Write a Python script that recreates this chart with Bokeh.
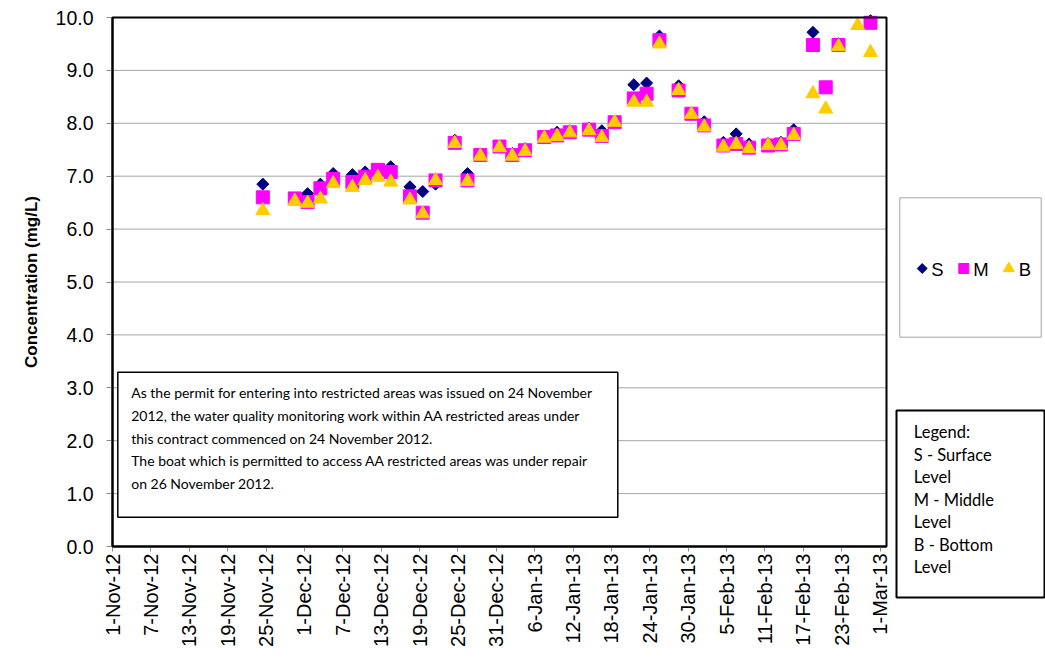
import math
import pandas as pd
from bokeh.plotting import figure
from bokeh.models import (Range1d, FixedTicker, PrintfTickFormatter, BoxAnnotation,
                          Label, ColumnDataSource, LinearAxis)
from bokeh.core.properties import value
from bokeh.embed import file_html
from bokeh.resources import INLINE

NaN = float("nan")

# ---------------- data ----------------
start_date = "2012-11-01"
end_days = 121  # axis runs to 2-Mar-13

dates = [
    "2012-11-24", "2012-11-29", "2012-12-01", "2012-12-03", "2012-12-05",
    "2012-12-08", "2012-12-10", "2012-12-12", "2012-12-14", "2012-12-17",
    "2012-12-19", "2012-12-21", "2012-12-24", "2012-12-26", "2012-12-28",
    "2012-12-31", "2013-01-02", "2013-01-04", "2013-01-07", "2013-01-09",
    "2013-01-11", "2013-01-14", "2013-01-16", "2013-01-18", "2013-01-21",
    "2013-01-23", "2013-01-25", "2013-01-28", "2013-01-30", "2013-02-01",
    "2013-02-04", "2013-02-06", "2013-02-08", "2013-02-11", "2013-02-13",
    "2013-02-15", "2013-02-18", "2013-02-20", "2013-02-22", "2013-02-25",
    "2013-02-27",
]
surface = [
    6.85, 6.57, 6.67, 6.85, 7.05, 7.03, 7.08, 7.10, 7.18, 6.80,
    6.71, 6.85, 7.68, 7.05, 7.42, 7.57, 7.43, 7.52, 7.76, 7.83,
    7.86, 7.91, 7.86, 8.03, 8.73, 8.76, 9.65, 8.71, 8.20, 8.03,
    7.64, 7.80, 7.61, 7.62, 7.64, 7.88, 9.72, 8.68, 9.50, NaN,
    9.94,
]
middle = [
    6.60, 6.58, 6.51, 6.77, 6.95, 6.89, 6.99, 7.12, 7.08, 6.62,
    6.31, 6.92, 7.63, 6.92, 7.40, 7.56, 7.40, 7.49, 7.74, 7.77,
    7.83, 7.88, 7.76, 8.02, 8.47, 8.56, 9.57, 8.62, 8.18, 7.96,
    7.58, 7.61, 7.54, 7.58, 7.60, 7.80, 9.48, 8.68, 9.48, NaN,
    9.90,
]
bottom = [
    6.35, 6.53, 6.49, 6.57, 6.86, 6.79, 6.92, 6.98, 6.89, 6.55,
    6.29, 6.92, 7.62, 6.90, 7.38, 7.54, 7.38, 7.47, 7.72, 7.75,
    7.82, 7.86, 7.73, 8.02, 8.40, 8.40, 9.50, 8.62, 8.17, 7.93,
    7.55, 7.60, 7.52, 7.58, 7.58, 7.77, 8.56, 8.27, 9.45, 9.85,
    9.34,
]
series_names = ["S", "M", "B"]
series_colors = ["#000080", "#FF00FF", "#FFCC00"]
tick_labels = [
    "1-Nov-12", "7-Nov-12", "13-Nov-12", "19-Nov-12", "25-Nov-12",
    "1-Dec-12", "7-Dec-12", "13-Dec-12", "19-Dec-12", "25-Dec-12",
    "31-Dec-12", "6-Jan-13", "12-Jan-13", "18-Jan-13", "24-Jan-13",
    "30-Jan-13", "5-Feb-13", "11-Feb-13", "17-Feb-13", "23-Feb-13",
    "1-Mar-13",
]
y_ticks = [0, 1, 2, 3, 4, 5, 6, 7, 8, 9, 10]
y_label = "Concentration (mg/L)"
note_lines = [
    "As the permit for entering into restricted areas was issued on 24 November",
    "2012,  the water quality monitoring work within AA restricted areas  under",
    "this contract commenced on 24 November 2012.",
    "The boat which is permitted to access AA restricted areas was  under repair",
    "on 26 November 2012.",
]
legend_lines = ["Legend:", "S - Surface", "Level", "M - Middle", "Level",
                "B - Bottom", "Level"]

# ---------------- derived positions ----------------
t0 = pd.Timestamp(start_date)
xs = ((pd.to_datetime(dates) - t0).days + 0.5).to_numpy().astype(float)
tick_pos = [int(d) for d in (pd.to_datetime(tick_labels, format="%d-%b-%y") - t0).days]

src = ColumnDataSource(dict(x=xs, s=surface, m=middle, b=bottom))

# ---------------- layout constants (canvas pixels) ----------------
W, H = 1045, 666
FL, FT, FR, FB = 112, 17, 886, 546          # chart area edges
YMAX = 10.0
x_start = -FL * end_days / (FR - FL)
x_end = end_days + (W - FR) * end_days / (FR - FL)
y_start = -(H - FB) * YMAX / (FB - FT)
y_end = YMAX + FT * YMAX / (FB - FT)


def cx(px):
    return x_start + px / W * (x_end - x_start)


def cy(py):
    return y_end - py / H * (y_end - y_start)


p = figure(width=W, height=H, output_backend="svg", toolbar_location=None,
           x_range=Range1d(x_start, x_end), y_range=Range1d(y_start, y_end),
           x_axis_type=None, y_axis_type=None, min_border=0)
p.background_fill_color = "white"
p.border_fill_color = "white"
p.outline_line_color = None

# horizontal gridlines across the chart area
grid_levels = [t for t in y_ticks if 0 < t < YMAX]
p.segment(x0=[0] * len(grid_levels), x1=[end_days] * len(grid_levels),
          y0=grid_levels, y1=grid_levels, line_color="#a6a6a6", line_width=1)

xa = LinearAxis(fixed_location=0, bounds=(0, end_days))
xa.ticker = FixedTicker(ticks=tick_pos)
xa.major_label_overrides = {t: lab for t, lab in zip(tick_pos, tick_labels)}
xa.major_label_orientation = math.pi / 2
xa.major_label_text_font = "Liberation Sans"
xa.major_label_text_font_size = "20px"
xa.major_label_text_color = "black"
xa.major_label_standoff = 2
xa.major_tick_out = 5
xa.major_tick_in = 0
xa.major_tick_line_color = "#8c8c8c"
xa.minor_tick_line_color = None
xa.axis_line_color = "black"
xa.axis_line_width = 2
p.add_layout(xa, "below")

ya = LinearAxis(fixed_location=0, bounds=(0, YMAX))
ya.ticker = FixedTicker(ticks=y_ticks)
ya.formatter = PrintfTickFormatter(format="%.1f")
ya.major_label_text_font = "Liberation Sans"
ya.major_label_text_font_size = "19.5px"
ya.major_label_text_color = "black"
ya.major_label_standoff = 13
ya.major_tick_out = 6
ya.major_tick_in = 0
ya.major_tick_line_color = "#8c8c8c"
ya.minor_tick_line_color = None
ya.axis_line_color = "black"
ya.axis_line_width = 2
ya.axis_label = y_label
ya.axis_label_text_font = "Liberation Sans"
ya.axis_label_text_font_style = "bold"
ya.axis_label_text_font_size = "17px"
ya.axis_label_text_color = "black"
ya.axis_label_standoff = 12
p.add_layout(ya, "left")

p.scatter("x", "s", source=src, marker="square", angle=math.pi / 4, size=8.5,
          fill_color=series_colors[0], line_color=series_colors[0])
p.scatter("x", "m", source=src, marker="square", size=13,
          fill_color=series_colors[1], line_color=series_colors[1])
p.scatter("x", "b", source=src, marker="triangle", size=14,
          fill_color=series_colors[2], line_color=series_colors[2])

# chart area border (top / right edges)
p.add_layout(BoxAnnotation(left=0, right=end_days, bottom=0, top=YMAX,
                           fill_alpha=0.0, line_color="black", line_alpha=1.0,
                           line_width=2))


def box(l, r, t, b, color, width, fill_alpha):
    p.add_layout(BoxAnnotation(left=cx(l), right=cx(r), top=cy(t), bottom=cy(b),
                               fill_color="white", fill_alpha=fill_alpha,
                               line_color=color, line_alpha=1.0, line_width=width))


# note box inside the chart area
box(117.3, 617.3, 371.7, 516.7, "black", 1.5, 1.0)
for i, line in enumerate(note_lines):
    p.add_layout(Label(x=cx(130.7), y=cy(392.3 + 22.6 * i), text=line,
                       text_font="Lato", text_font_size="14px", text_color="black",
                       text_baseline="middle", text_align="left"))

# symbol key box
box(899.3, 1040.7, 197.3, 336.7, "#a6a6a6", 1, 0.0)
key_y = cy(268)
key_glyph_px = [921.7, 963.3, 1008.3]
key_text_px = [930.7, 972.7, 1018.3]
p.scatter([cx(key_glyph_px[0])], [key_y], marker="square", angle=math.pi / 4, size=7,
          fill_color=series_colors[0], line_color=series_colors[0])
p.scatter([cx(key_glyph_px[1])], [key_y], marker="square", size=10,
          fill_color=series_colors[1], line_color=series_colors[1])
p.scatter([cx(key_glyph_px[2])], [key_y], marker="triangle", size=11,
          fill_color=series_colors[2], line_color=series_colors[2])
p.text(x=[cx(v) for v in key_text_px], y=[cy(268.5)] * 3, text=series_names,
       text_font=value("Liberation Sans"), text_font_size="18.5px",
       text_color="black", text_baseline="middle", text_align="left")

# text legend box
box(896, 1044, 410, 597, "black", 2, 0.0)
for i, line in enumerate(legend_lines):
    p.add_layout(Label(x=cx(913.3), y=cy(431.7 + 22.5 * i), text=line,
                       text_font="Lato", text_font_size="16.5px", text_color="black",
                       text_baseline="middle", text_align="left"))

open("out.html", "w").write(file_html(p, INLINE))
